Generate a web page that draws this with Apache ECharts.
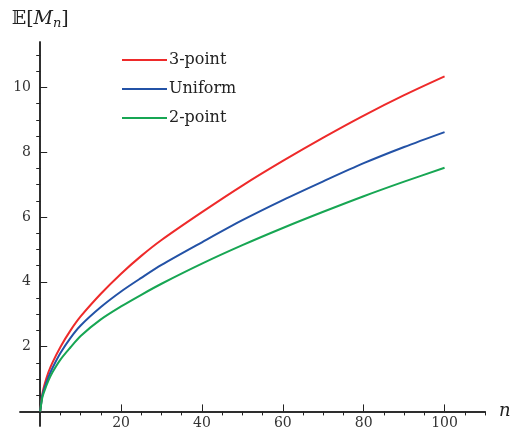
<!DOCTYPE html>
<html>
<head>
<meta charset="utf-8">
<script src="https://cdn.jsdelivr.net/npm/echarts@6/dist/echarts.min.js"></script>
<style>
  html, body { margin: 0; padding: 0; background: #fff; }
  #chart { width: 513px; height: 436px; }
</style>
</head>
<body>
<div id="chart"></div>
<script>
// values, n -> E[M_n]
const nValues = [0, 0.5, 1, 2, 3, 5, 7.5, 10, 15, 20, 25, 30, 40, 50, 60, 70, 80, 90, 100];
const threePoint = [0, 0.52, 0.8, 1.2, 1.5, 1.99, 2.5, 2.93, 3.63, 4.25, 4.8, 5.29, 6.15, 6.97, 7.73, 8.45, 9.13, 9.76, 10.34];
const uniform = [0, 0.47, 0.7, 1.05, 1.33, 1.8, 2.27, 2.65, 3.22, 3.7, 4.12, 4.52, 5.22, 5.9, 6.52, 7.1, 7.66, 8.16, 8.62];
const twoPoint = [0, 0.42, 0.62, 0.94, 1.2, 1.6, 1.98, 2.33, 2.84, 3.24, 3.6, 3.94, 4.56, 5.13, 5.66, 6.16, 6.64, 7.09, 7.52];

const xMajor = [20, 40, 60, 80, 100];
const xMinor = [5, 10, 15, 25, 30, 35, 45, 50, 55, 65, 70, 75, 85, 90, 95, 105, 110];
const yMajor = [2, 4, 6, 8, 10];
const yMinor = [0.5, 1, 1.5, 2.5, 3, 3.5, 4.5, 5, 5.5, 6.5, 7, 7.5, 8.5, 9, 9.5, 10.5, 11];

const font = "'DejaVu Serif', 'Liberation Serif', serif";
const axisColor = "#222";

const pairs = (ys) => nValues.map((n, i) => [n, ys[i]]);

const chart = echarts.init(document.getElementById("chart"));

const xBase = {
  type: "value",
  min: -5,
  max: 110,
  splitLine: { show: false },
  axisLine: { onZero: true, lineStyle: { color: axisColor, width: 1.5 } },
};
const yBase = {
  type: "value",
  min: -0.45,
  max: 11.4,
  splitLine: { show: false },
  axisLine: { onZero: true, lineStyle: { color: axisColor, width: 1.5 } },
};

chart.setOption({
  animation: false,
  grid: { left: 20, right: 28, top: 42, bottom: 10, containLabel: false, outerBoundsMode: "none" },
  legend: {
    orient: "vertical",
    left: 117,
    top: 47,
    itemWidth: 45,
    itemHeight: 14,
    itemGap: 13,
    icon: "path://M0,6 L45,6 L45,8 L0,8 Z",
    textStyle: { fontFamily: font, fontSize: 16, color: "#222", padding: [0, 0, 0, -3] },
    data: ["3-point", "Uniform", "2-point"],
  },
  xAxis: [
    Object.assign({}, xBase, {
      name: "n",
      nameLocation: "end",
      nameGap: 14,
      nameTextStyle: { fontFamily: font, fontStyle: "italic", fontSize: 18, color: "#222" },
      axisTick: { inside: true, length: 7, customValues: xMajor, lineStyle: { color: axisColor } },
      axisLabel: { customValues: xMajor, margin: -10, fontFamily: font, fontSize: 14, color: "#333" },
    }),
    Object.assign({}, xBase, {
      axisTick: { inside: true, length: 4, customValues: xMinor, lineStyle: { color: axisColor } },
      axisLabel: { show: false },
    }),
  ],
  yAxis: [
    Object.assign({}, yBase, {
      name: "{bb|𝔼}[{it|M}{sub|n}]",
      nameLocation: "end",
      nameGap: 12,
      nameTextStyle: {
        fontFamily: font, fontSize: 19, color: "#222", align: "center",
        rich: {
          bb: { fontFamily: font, fontSize: 19, color: "#222" },
          it: { fontFamily: font, fontStyle: "italic", fontSize: 19, color: "#222" },
          sub: { fontFamily: font, fontStyle: "italic", fontSize: 13, color: "#222", verticalAlign: "bottom", padding: [8, 0, 0, 0] },
        },
      },
      axisTick: { inside: true, length: 7, customValues: yMajor, lineStyle: { color: axisColor } },
      axisLabel: { customValues: yMajor, margin: -11, fontFamily: font, fontSize: 14, color: "#333" },
    }),
    Object.assign({}, yBase, {
      axisTick: { inside: true, length: 4, customValues: yMinor, lineStyle: { color: axisColor } },
      axisLabel: { show: false },
    }),
  ],
  series: [
    { name: "3-point", type: "line", data: pairs(threePoint), smooth: 0.3, symbol: "none",
      lineStyle: { color: "#ee2a2a", width: 2 }, itemStyle: { color: "#ee2a2a" } },
    { name: "Uniform", type: "line", data: pairs(uniform), smooth: 0.3, symbol: "none",
      lineStyle: { color: "#2352a6", width: 2 }, itemStyle: { color: "#2352a6" } },
    { name: "2-point", type: "line", data: pairs(twoPoint), smooth: 0.3, symbol: "none",
      lineStyle: { color: "#17a653", width: 2 }, itemStyle: { color: "#17a653" } },
  ],
});
</script>
</body>
</html>
